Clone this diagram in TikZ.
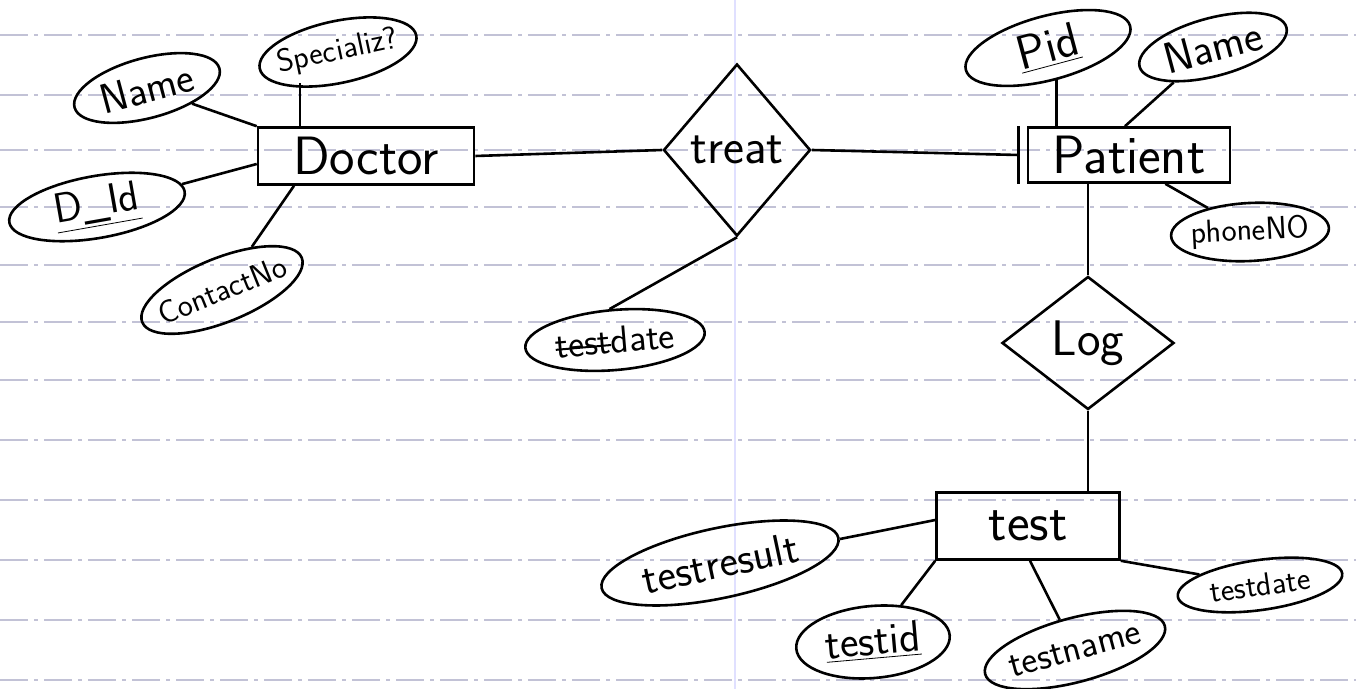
\documentclass[tikz,border=0pt]{standalone}
\usetikzlibrary{shapes.geometric,calc}
\newcommand\mystrike[1]{\setbox0\hbox{#1}\rlap{\raisebox{0.45ex}{\rule{\wd0}{1pt}}}\box0}
\newcommand\att[1]{\makebox[0pt]{#1}}
\newcommand\fs[1]{\fontsize{#1}{#1}\selectfont}
\begin{document}
\begin{tikzpicture}[x=0.5pt,y=-0.5pt,
  ink/.style={line width=1.3pt,black},
  attr/.style={draw,ellipse,ink,inner sep=0pt,font=\sffamily},
  ent/.style={draw,rectangle,ink,inner sep=0pt,font=\sffamily\fs{27}},
  rel/.style={draw,diamond,ink,inner sep=0pt,font=\sffamily\fs{25}},
  paper/.style={draw=blue!20!gray!40,line width=0.7pt,dash pattern=on 14pt off 3pt on 2pt off 3pt}]
\useasboundingbox (0,0) rectangle (1356,689);
\fill[white] (0,0) rectangle (1356,689);
% ruled paper
\foreach \yy in {35,95,150,207,265,322,380,440,500,560,620,680}
  \draw[paper] (0,\yy) -- (1356,\yy);
\draw[blue!12,line width=0.6pt] (735,0) -- (735,689);
% entities
\node[ent,minimum width=108pt,minimum height=28.5pt] (doctor) at (366,156) {Doctor};
\node[ent,minimum width=101pt,minimum height=27.5pt] (patient) at (1129,155) {Patient};
\node[ent,minimum width=91.5pt,minimum height=33.5pt] (test) at (1028,526) {test};
% relationships
\node[rel,minimum width=73.5pt,minimum height=86pt] (treat) at (737,150) {treat};
\node[rel,minimum width=86pt,minimum height=66.5pt] (log) at (1088,343) {Log};
% doctor attributes
\node[attr,font=\sffamily\fs{21},minimum width=75pt,minimum height=30pt,rotate=15] (dname) at (147,88) {\att{Name}};
\node[attr,font=\sffamily\fs{16},minimum width=80pt,minimum height=31pt,rotate=12] (spec) at (338,52) {\att{Specializ?}};
\node[attr,font=\sffamily\fs{21},minimum width=89pt,minimum height=31pt,rotate=10] (did) at (97,207) {\att{\underline{D\_Id}}};
\node[attr,font=\sffamily\fs{16},minimum width=86pt,minimum height=32pt,rotate=22] (contact) at (222,290) {\att{ContactNo}};
% treat attribute
\node[attr,font=\sffamily\fs{19},minimum width=90pt,minimum height=30pt,rotate=5] (date) at (615,340) {\att{\mystrike{test} date}};
% patient attributes
\node[attr,font=\sffamily\fs{24},minimum width=85pt,minimum height=32pt,rotate=15] (pid) at (1048,48) {\att{\underline{Pid}}};
\node[attr,font=\sffamily\fs{22},minimum width=76pt,minimum height=29pt,rotate=15] (pname) at (1213,47) {\att{Name}};
\node[attr,font=\sffamily\fs{16},minimum width=79pt,minimum height=29pt,rotate=3] (phone) at (1250,232) {\att{phoneNO}};
% test attributes
\node[attr,font=\sffamily\fs{22},minimum width=121pt,minimum height=35pt,rotate=12] (tresult) at (720,563) {\att{testresult}};
\node[attr,font=\sffamily\fs{22},minimum width=77pt,minimum height=36pt,rotate=5] (tid) at (873,642) {\att{\underline{testid}}};
\node[attr,font=\sffamily\fs{19},minimum width=93pt,minimum height=32pt,rotate=15] (tname) at (1075,650) {\att{testname}};
\node[attr,font=\sffamily\fs{16},minimum width=83pt,minimum height=25pt,rotate=8] (tdate) at (1260,585) {\att{testdate}};
% relationship connectors
\draw[ink] (doctor.east) -- (treat.west);
\draw[ink] (treat.east) -- ([xshift=-4pt]patient.west);
\draw[ink] ([xshift=-4pt]patient.north west) -- ([xshift=-4pt]patient.south west);
\draw[ink] (log.north |- patient.south) -- (log.north);
\draw[ink] (log.south) -- (log.south |- test.north);
\draw[ink] (treat.south) -- (date.95);
% attribute connectors
\draw[ink] (dname) -- (doctor.north west);
\draw[ink] ([xshift=-33pt]doctor.north) -- ++(0,-43);
\draw[ink] (did) -- ([yshift=-4pt]doctor.west);
\draw[ink] (contact) -- ([xshift=-36pt]doctor.south);
\draw[ink] (pid.south) -- (pid.south |- patient.north);
\draw[ink] (pname) -- ([xshift=-2pt]patient.north);
\draw[ink] (phone) -- ([xshift=-33pt]patient.south east);
\draw[ink] (tresult) -- ([yshift=3pt]test.west);
\draw[ink] (tid) -- (test.south west);
\draw[ink] ([xshift=1pt]test.south) -- (tname);
\draw[ink] (test.south east) -- (tdate);
\end{tikzpicture}
\end{document}
